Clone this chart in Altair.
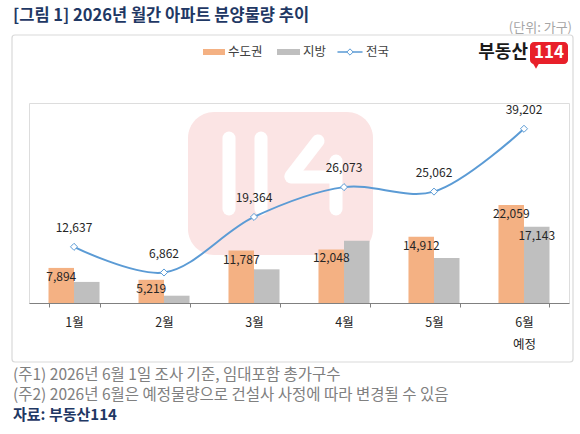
import altair as alt
import pandas as pd

# Monthly apartment supply (units)
months = ["1월", "2월", "3월", "4월", "5월", "6월"]
regions = ["수도권", "지방"]
capital = [7894, 5219, 11787, 12048, 14912, 22059]
provinces = [4743, 1643, 7577, 14025, 10150, 17143]
national = [12637, 6862, 19364, 26073, 25062, 39202]
# only the June figure of the provinces series carries a value label
province_labelled = [False, False, False, False, False, True]

title_text = "[그림 1] 2026년 월간 아파트 분양물량 추이"
unit_text = "(단위: 가구)"
notes = [
    "(주1) 2026년 6월 1일 조사 기준, 임대포함 총가구수",
    "(주2) 2026년 6월은 예정물량으로 건설사 사정에 따라 변경될 수 있음",
]
source_text = "자료: 부동산114"

FONT = "Noto Sans CJK KR"
ORANGE = "#F4B183"
GREY = "#BFBFBF"
BLUE = "#5B9BD5"
NAVY = "#1F3864"

rows = []
for i, m in enumerate(months):
    rows.append({"month": m, "region": "수도권", "value": capital[i], "show": True})
    rows.append({"month": m, "region": "지방", "value": provinces[i], "show": province_labelled[i]})
bars_df = pd.DataFrame(rows)
line_df = pd.DataFrame({"month": months, "total": national})

x_enc = alt.X(
    "month:N",
    sort=months,
    scale=alt.Scale(paddingInner=0.433, paddingOuter=0.2167),
    axis=alt.Axis(
        title=None,
        labelAngle=0,
        tickBand="extent",
        domainColor="#808080",
        tickColor="#808080",
        tickSize=4,
        labelPadding=9,
        labelFont=FONT,
        labelFontSize=12.5,
        labelColor="#262626",
        labelLineHeight=22,
        labelExpr="datum.value == '6월' ? ['6월', '예정'] : datum.value",
        grid=False,
    ),
)
y_scale = alt.Scale(domain=[0, 45000], nice=False)
off_enc = alt.XOffset("region:N", sort=regions, scale=alt.Scale(paddingInner=0, paddingOuter=0))

one = pd.DataFrame({"k": [0]})


def txt(text, x, y, size, color, weight="normal", align="left"):
    return alt.Chart(one).mark_text(
        font=FONT, fontSize=size, color=color, fontWeight=weight,
        align=align, baseline="middle",
    ).encode(x=alt.value(x), y=alt.value(y), text=alt.value(text))


def box(x, x2, y, y2, **kw):
    return alt.Chart(one).mark_rect(**kw).encode(
        x=alt.value(x), x2=alt.value(x2), y=alt.value(y), y2=alt.value(y2)
    )


def stroke(x, y, x2, y2, color, width):
    return alt.Chart(one).mark_rule(color=color, strokeWidth=width, strokeCap="round").encode(
        x=alt.value(x), y=alt.value(y), x2=alt.value(x2), y2=alt.value(y2)
    )


# frame around the chart
frame = box(-17, 544, -68, 259, fillOpacity=0, stroke="#D9D9D9", strokeWidth=1.2, cornerRadius=3)

# faint brand mark behind the plot
wm = [
    box(159, 344, 9, 152, color="#FBE4E4", cornerRadius=26),
    stroke(200, 35, 200, 106, "white", 13),
    stroke(232, 35, 232, 106, "white", 13),
    stroke(289, 38, 262, 73, "white", 13),
    stroke(262, 74, 306, 74, "white", 13),
    stroke(307, 58, 307, 106, "white", 13),
]

bars = alt.Chart(bars_df).mark_bar().encode(
    x=x_enc,
    xOffset=off_enc,
    y=alt.Y("value:Q", scale=y_scale, axis=None),
    color=alt.Color("region:N", scale=alt.Scale(domain=regions, range=[ORANGE, GREY]), legend=None),
)

bar_labels = alt.Chart(bars_df).transform_filter("datum.show").mark_text(
    font=FONT, fontSize=12, color="#262626", baseline="top", dy=4
).encode(
    x=x_enc,
    xOffset=off_enc,
    y=alt.Y("value:Q", scale=y_scale, axis=None),
    text=alt.Text("value:Q", format=","),
)

line = alt.Chart(line_df).mark_line(interpolate="catmull-rom", color=BLUE, strokeWidth=2).encode(
    x=x_enc, y=alt.Y("total:Q", scale=y_scale, axis=None)
)
points = alt.Chart(line_df).mark_point(
    shape="diamond", filled=True, fill="white", stroke=BLUE, strokeWidth=1, size=50, opacity=1
).encode(x=x_enc, y=alt.Y("total:Q", scale=y_scale, axis=None))
line_labels = alt.Chart(line_df).mark_text(
    font=FONT, fontSize=12, color="#262626", baseline="middle", dy=-19
).encode(
    x=x_enc,
    y=alt.Y("total:Q", scale=y_scale, axis=None),
    text=alt.Text("total:Q", format=","),
)

# legend
legend = [
    box(174, 196, -54, -48, color=ORANGE),
    txt(regions[0], 199, -51, 12.5, "#404040"),
    box(248, 271, -54, -48, color=GREY),
    txt(regions[1], 274, -51, 12.5, "#404040"),
    stroke(309, -51, 333, -51, BLUE, 1.5),
    alt.Chart(one).mark_point(shape="diamond", filled=True, fill="white", stroke=BLUE,
                              strokeWidth=1, size=40, opacity=1).encode(
        x=alt.value(321), y=alt.value(-51)),
    txt("전국", 337, -51, 12.5, "#404040"),
]

# logo
logo = [
    txt("부동산", 499, -50, 18, "#1A1A1A", weight="bold", align="right"),
    box(501, 539, -61, -39, color="#E8202A", cornerRadius=4),
    alt.Chart(one).mark_point(shape="triangle-down", filled=True, color="#E8202A", size=40, opacity=1).encode(
        x=alt.value(507), y=alt.value(-37)),
    txt("114", 520, -50, 17, "white", weight="bold", align="center"),
]

texts = [
    txt(title_text, -16, -87, 16.5, NAVY, weight="bold"),
    txt(unit_text, 543, -75, 13, "#A6A6A6", align="right"),
    txt(notes[0], -16, 272, 15.5, "#808080"),
    txt(notes[1], -16, 292, 15.5, "#808080"),
    txt(source_text, -16, 312, 15, NAVY, weight="bold"),
]

chart = alt.layer(
    frame, *wm, bars, bar_labels, line, points, line_labels, *legend, *logo, *texts
).properties(
    width=540,
    height=200,
    autosize=alt.AutoSizeParams(type="none"),
    padding={"left": 29, "top": 103, "right": 11, "bottom": 131},
    background="white",
).configure_view(strokeWidth=0).configure(font=FONT)

chart.save("out.html", embed_options={"renderer": "svg", "actions": False})
